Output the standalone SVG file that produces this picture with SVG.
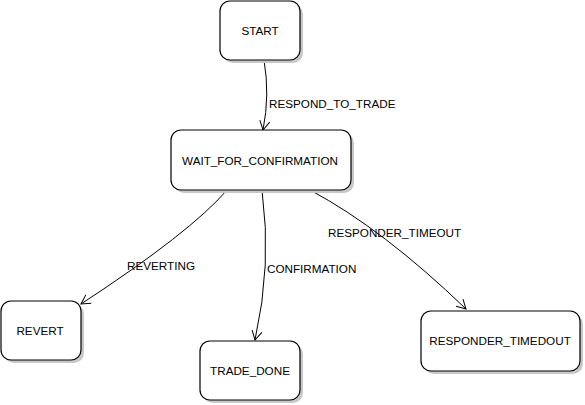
<svg xmlns="http://www.w3.org/2000/svg" width="585" height="405" viewBox="0 0 585 405">
<style>
.sh{fill:#c8c8c8;stroke:none}
.bx{fill:#fff;stroke:#000;stroke-width:1.2}
text{font-family:"Liberation Sans",Arial,sans-serif;font-size:11.7px;fill:#000}
.c{text-anchor:middle}
.e{fill:none;stroke:#000;stroke-width:1}
</style>
<defs>
<marker id="ar" markerWidth="12" markerHeight="12" refX="10" refY="6" orient="auto" markerUnits="userSpaceOnUse">
<path d="M1,1 L10,6 L1,11" fill="none" stroke="#000" stroke-width="1"/>
</marker>
</defs>
<rect width="585" height="405" fill="#fff"/>
<g id="connectors">
<path class="e" d="M264,60 Q270,95 263,130" marker-end="url(#ar)"/>
<path class="e" d="M227,190 Q191,232 81,304" marker-end="url(#ar)"/>
<path class="e" d="M262,190 Q272,265 255,340" marker-end="url(#ar)"/>
<path class="e" d="M310,190 Q383,229 466,309" marker-end="url(#ar)"/>
<text x="269" y="107.5">RESPOND_TO_TRADE</text>
<text x="127" y="270">REVERTING</text>
<text x="267" y="273">CONFIRMATION</text>
<text x="328" y="237">RESPONDER_TIMEOUT</text>
</g>
<g id="start">
<rect class="sh" x="223" y="4" width="80" height="59" rx="10"/>
<rect class="bx" x="220" y="1" width="80" height="59" rx="10"/>
<text class="c" x="260" y="35">START</text>
</g>
<g id="wait">
<rect class="sh" x="174" y="133" width="180" height="60" rx="10"/>
<rect class="bx" x="171" y="130" width="180" height="60" rx="10"/>
<text class="c" x="260" y="164.5">WAIT_FOR_CONFIRMATION</text>
</g>
<g id="revert">
<rect class="sh" x="4" y="304" width="80" height="59" rx="10"/>
<rect class="bx" x="1" y="301" width="80" height="59" rx="10"/>
<text class="c" x="40" y="335">REVERT</text>
</g>
<g id="tradedone">
<rect class="sh" x="203" y="344" width="100" height="59" rx="10"/>
<rect class="bx" x="200" y="341" width="100" height="59" rx="10"/>
<text class="c" x="250" y="375">TRADE_DONE</text>
</g>
<g id="timedout">
<rect class="sh" x="424" y="314" width="159" height="60" rx="10"/>
<rect class="bx" x="421" y="311" width="159" height="60" rx="10"/>
<text class="c" x="500" y="345">RESPONDER_TIMEDOUT</text>
</g>
</svg>
